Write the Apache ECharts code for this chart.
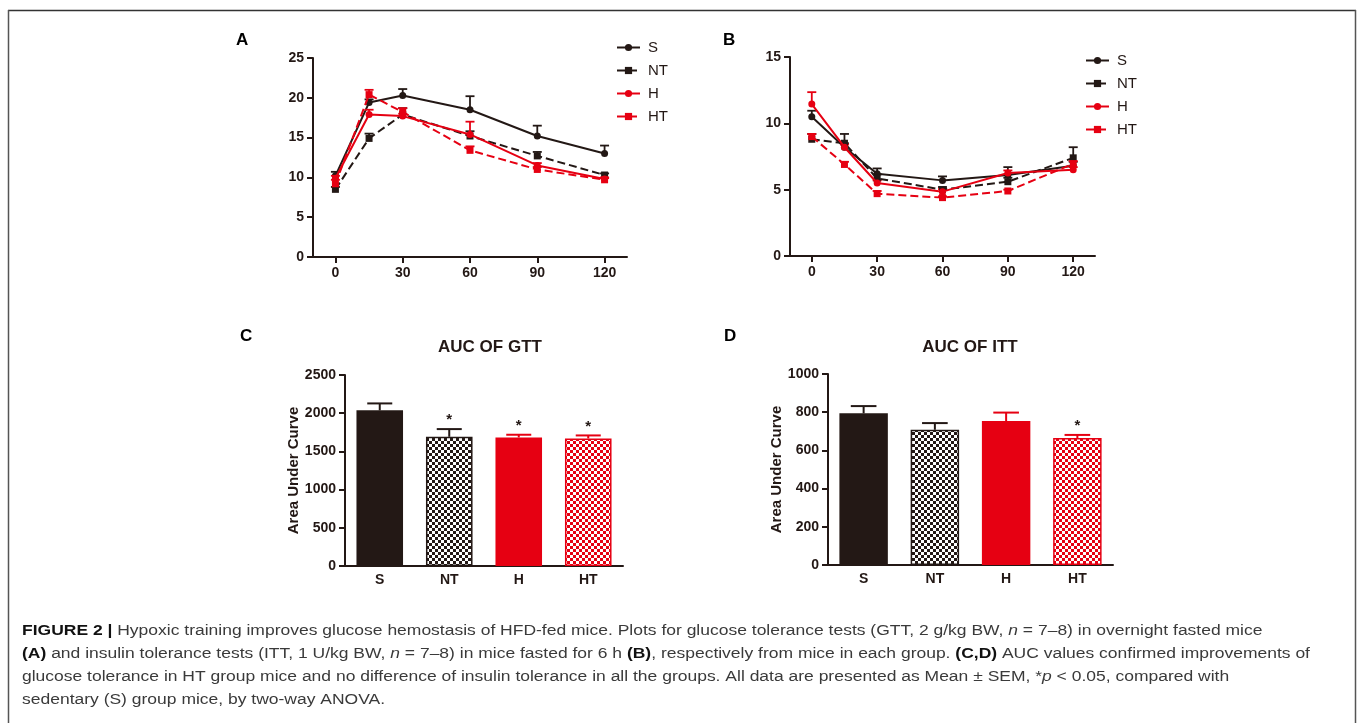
<!DOCTYPE html>
<html>
<head>
<meta charset="utf-8">
<script src="https://cdn.jsdelivr.net/npm/echarts@6.0.0/dist/echarts.min.js"></script>
<style>
html,body{margin:0;padding:0;background:#fff;}
#chart{width:1357px;height:723px;}
</style>
</head>
<body>
<div id="chart"></div>
<script>
// ---------- DATA ----------
const groupNames = ['S', 'NT', 'H', 'HT'];
const timePoints = [0, 15, 30, 60, 90, 120];
const timeTicks = [0, 30, 60, 90, 120];

// Panel A: GTT (mean, SEM)
const gttS = [10.2, 19.4, 20.3, 18.5, 15.2, 13.0];
const gttSSem = [0.5, 0.4, 0.8, 1.7, 1.3, 1.0];
const gttNT = [8.5, 14.9, 17.9, 15.2, 12.7, 10.3];
const gttNTSem = [0.3, 0.6, 0.8, 0.6, 0.5, 0.2];
const gttH = [9.9, 17.9, 17.7, 15.4, 11.5, 9.8];
const gttHSem = [0.3, 0.6, 0.3, 1.6, 0.3, 0.2];
const gttHT = [9.2, 20.4, 18.2, 13.4, 11.0, 9.7];
const gttHTSem = [0.5, 0.6, 0.5, 0.5, 0.3, 0.2];

// Panel B: ITT (mean, SEM)
const ittS = [10.5, 8.2, 6.2, 5.7, 6.1, 6.8];
const ittSSem = [0.45, 0.3, 0.4, 0.3, 0.6, 0.3];
const ittNT = [8.8, 8.5, 5.85, 5.0, 5.6, 7.4];
const ittNTSem = [0.4, 0.7, 0.3, 0.2, 0.3, 0.8];
const ittH = [11.45, 8.2, 5.5, 4.85, 6.25, 6.5];
const ittHSem = [0.9, 0.2, 0.2, 0.2, 0.2, 0.2];
const ittHT = [9.0, 6.9, 4.7, 4.4, 4.9, 6.95];
const ittHTSem = [0.2, 0.2, 0.2, 0.1, 0.1, 0.2];

// Panel C / D: AUC
const aucGtt = [2037, 1691, 1683, 1670];
const aucGttSem = [91, 101, 35, 39];
const sigGtt = ['', '*', '*', '*'];
const aucItt = [794, 708, 754, 665];
const aucIttSem = [38, 35, 44, 16];
const sigItt = ['', '', '', '*'];

// Axis ticks
const gttYTicks = {min: 0, max: 25, interval: 5};
const ittYTicks = {min: 0, max: 15, interval: 5};
const aucGttYTicks = {min: 0, max: 2500, interval: 500};
const aucIttYTicks = {min: 0, max: 1000, interval: 200};

// Texts
const panelLetters = ['A', 'B', 'C', 'D'];
const barTitles = ['AUC OF GTT', 'AUC OF ITT'];
const barYName = 'Area Under Curve';
const captionLines = [
  '{b|FIGURE 2 |} Hypoxic training improves glucose hemostasis of HFD-fed mice. Plots for glucose tolerance tests (GTT, 2 g/kg BW, {i|n} = 7–8) in overnight fasted mice',
  '{b|(A)} and insulin tolerance tests (ITT, 1 U/kg BW, {i|n} = 7–8) in mice fasted for 6 h {b|(B)}, respectively from mice in each group. {b|(C,D)} AUC values confirmed improvements of',
  'glucose tolerance in HT group mice and no difference of insulin tolerance in all the groups. All data are presented as Mean ± SEM, *{i|p} < 0.05, compared with',
  'sedentary (S) group mice, by two-way ANOVA.'
];

// ---------- STYLE ----------
const BLACK = '#231815';
const RED = '#e60012';
const FONT = '"Liberation Sans", Arial, Helvetica, sans-serif';

function checker(c) {
  const cv = document.createElement('canvas');
  cv.width = 6; cv.height = 6;
  const ctx = cv.getContext('2d');
  ctx.fillStyle = '#fff'; ctx.fillRect(0, 0, 6, 6);
  ctx.fillStyle = c; ctx.fillRect(0, 0, 3, 3); ctx.fillRect(3, 3, 3, 3);
  return cv;
}
const barStyles = [
  {color: BLACK},
  {color: {image: checker(BLACK), repeat: 'repeat'}, borderColor: BLACK, borderWidth: 1.5},
  {color: RED},
  {color: {image: checker(RED), repeat: 'repeat'}, borderColor: RED, borderWidth: 1.5}
];
const barErrColors = [BLACK, BLACK, RED, RED];

const lineDefs = [
  {name: 'S', color: BLACK, type: 'solid', symbol: 'circle'},
  {name: 'NT', color: BLACK, type: 'dashed', symbol: 'rect'},
  {name: 'H', color: RED, type: 'solid', symbol: 'circle'},
  {name: 'HT', color: RED, type: 'dashed', symbol: 'rect'}
];

const axisLineStyle = {show: true, onZero: false, lineStyle: {color: BLACK, width: 2}};
const axisTickStyle = {show: true, inside: false, length: 6, lineStyle: {color: BLACK, width: 2}};
const labelStyle = {color: BLACK, fontSize: 14, fontWeight: 'bold', fontFamily: FONT, margin: 9,
  formatter: function (v) { return String(v); }};

function lineErr(color) {
  return function (params, api) {
    const x = api.value(0), y = api.value(1), e = api.value(2);
    const p0 = api.coord([x, y]);
    const p1 = api.coord([x, y + e]);
    return {
      type: 'group',
      children: [
        {type: 'line', shape: {x1: p0[0], y1: p0[1], x2: p1[0], y2: p1[1]}, style: {stroke: color, lineWidth: 1.8}},
        {type: 'line', shape: {x1: p1[0] - 4.5, y1: p1[1], x2: p1[0] + 4.5, y2: p1[1]}, style: {stroke: color, lineWidth: 1.8}}
      ]
    };
  };
}

function barErr(sigs) {
  return function (params, api) {
    const idx = api.value(0), y = api.value(1), e = api.value(2);
    const p0 = api.coord([idx, y]);
    const p1 = api.coord([idx, y + e]);
    const band = api.size([1, 0])[0];
    const half = band * 0.18;
    const color = barErrColors[idx];
    const children = [
      {type: 'line', shape: {x1: p0[0], y1: p0[1], x2: p1[0], y2: p1[1]}, style: {stroke: color, lineWidth: 2}},
      {type: 'line', shape: {x1: p1[0] - half, y1: p1[1], x2: p1[0] + half, y2: p1[1]}, style: {stroke: color, lineWidth: 2}}
    ];
    if (sigs[idx]) {
      children.push({type: 'text', x: p1[0], y: p1[1] - 9, style: {text: sigs[idx], fill: BLACK, font: 'bold 15px ' + FONT, align: 'center', verticalAlign: 'middle', textAlign: 'center', textVerticalAlign: 'middle'}});
    }
    return {type: 'group', children: children};
  };
}

const gttData = [[gttS, gttSSem], [gttNT, gttNTSem], [gttH, gttHSem], [gttHT, gttHTSem]];
const ittData = [[ittS, ittSSem], [ittNT, ittNTSem], [ittH, ittHSem], [ittHT, ittHTSem]];

const series = [];
[[gttData, 0], [ittData, 1]].forEach(function (pair) {
  const data = pair[0], gi = pair[1];
  lineDefs.forEach(function (d, k) {
    series.push({
      type: 'custom', name: d.name + '-err', xAxisIndex: gi, yAxisIndex: gi,
      data: timePoints.map(function (t, i) { return [t, data[k][0][i], data[k][1][i]]; }),
      renderItem: lineErr(d.color), z: 2 + k, animation: false, silent: true
    });
    series.push({
      type: 'line', name: d.name, xAxisIndex: gi, yAxisIndex: gi,
      data: timePoints.map(function (t, i) { return [t, data[k][0][i]]; }),
      symbol: d.symbol, symbolSize: 7,
      lineStyle: {color: d.color, width: 2, type: d.type},
      itemStyle: {color: d.color},
      z: 3 + k, animation: false
    });
  });
});

series.push({
  type: 'bar', xAxisIndex: 2, yAxisIndex: 2, barWidth: '67%',
  data: aucGtt.map(function (v, i) { return {value: v, itemStyle: barStyles[i]}; }),
  animation: false
});
series.push({
  type: 'custom', xAxisIndex: 2, yAxisIndex: 2,
  data: aucGtt.map(function (v, i) { return [i, v, aucGttSem[i]]; }),
  renderItem: barErr(sigGtt), z: 5, animation: false
});
series.push({
  type: 'bar', xAxisIndex: 3, yAxisIndex: 3, barWidth: '68%',
  data: aucItt.map(function (v, i) { return {value: v, itemStyle: barStyles[i]}; }),
  animation: false
});
series.push({
  type: 'custom', xAxisIndex: 3, yAxisIndex: 3,
  data: aucItt.map(function (v, i) { return [i, v, aucIttSem[i]]; }),
  renderItem: barErr(sigItt), z: 5, animation: false
});

function timeAxis(gi) {
  return {
    type: 'value', gridIndex: gi, min: -10, max: 130,
    axisLine: axisLineStyle,
    axisTick: Object.assign({}, axisTickStyle, {customValues: timeTicks}),
    axisLabel: Object.assign({}, labelStyle, {customValues: timeTicks}),
    splitLine: {show: false}
  };
}
function catAxis(gi) {
  return {
    type: 'category', gridIndex: gi, data: groupNames,
    axisLine: axisLineStyle, axisTick: {show: false},
    axisLabel: {color: BLACK, fontSize: 14, fontWeight: 'bold', fontFamily: FONT, margin: 7},
    splitLine: {show: false}
  };
}
function valAxis(gi, t, name) {
  const ax = {
    type: 'value', gridIndex: gi, min: t.min, max: t.max, interval: t.interval,
    axisLine: axisLineStyle, axisTick: axisTickStyle, axisLabel: labelStyle,
    splitLine: {show: false}
  };
  if (name) {
    ax.name = name;
    ax.nameLocation = 'middle';
    ax.nameGap = 42;
    ax.nameRotate = 90;
    ax.nameTextStyle = {color: BLACK, fontSize: 15, fontWeight: 'bold', fontFamily: FONT};
  }
  return ax;
}

const legendBase = {
  data: groupNames, orient: 'vertical', itemWidth: 23, itemHeight: 9, itemGap: 8,
  textStyle: {color: BLACK, fontSize: 15, fontFamily: FONT, padding: [0, 0, 0, 3]},
  selectedMode: false
};

// graphic texts
const graphics = [];
// frame
graphics.push({type: 'line', shape: {x1: 8, y1: 10.5, x2: 1356, y2: 10.5}, style: {stroke: '#333', lineWidth: 1.5}, silent: true});
graphics.push({type: 'line', shape: {x1: 8.5, y1: 10, x2: 8.5, y2: 723}, style: {stroke: '#555', lineWidth: 1.5}, silent: true});
graphics.push({type: 'line', shape: {x1: 1355.5, y1: 10, x2: 1355.5, y2: 723}, style: {stroke: '#555', lineWidth: 1.5}, silent: true});

const letterPos = [[236, 40], [723, 40], [240, 336], [724, 336]];
panelLetters.forEach(function (l, i) {
  graphics.push({type: 'text', x: letterPos[i][0], y: letterPos[i][1], silent: true,
    style: {text: l, fill: '#000', font: 'bold 17px ' + FONT, align: 'left', verticalAlign: 'middle', textAlign: 'left', textVerticalAlign: 'middle'}});
});
const titlePos = [[490, 347], [970, 347]];
barTitles.forEach(function (t, i) {
  graphics.push({type: 'text', x: titlePos[i][0], y: titlePos[i][1], silent: true,
    style: {text: t, fill: BLACK, font: 'bold 17px ' + FONT, align: 'center', verticalAlign: 'middle', textAlign: 'center', textVerticalAlign: 'middle'}});
});
const capY = [631, 654, 677, 700];
captionLines.forEach(function (t, i) {
  graphics.push({type: 'text', x: 22, y: capY[i], scaleX: 1.128, silent: true,
    style: {text: t, fill: '#3a3a3a', font: '15.5px ' + FONT, align: 'left', verticalAlign: 'middle', textAlign: 'left', textVerticalAlign: 'middle',
      rich: {
        b: {fill: '#111', fontWeight: 'bold', fontSize: 15.5, fontFamily: FONT},
        i: {fill: '#3a3a3a', fontStyle: 'italic', fontSize: 15.5, fontFamily: FONT}
      }}});
});

const option = {
  backgroundColor: '#fff',
  animation: false,
  grid: [
    {left: 313, top: 58, width: 314, height: 199},
    {left: 790, top: 57, width: 305, height: 199},
    {left: 345, top: 375, width: 278, height: 191},
    {left: 828, top: 374, width: 285, height: 191}
  ],
  xAxis: [timeAxis(0), timeAxis(1), catAxis(2), catAxis(3)],
  yAxis: [
    valAxis(0, gttYTicks), valAxis(1, ittYTicks),
    valAxis(2, aucGttYTicks, barYName), valAxis(3, aucIttYTicks, barYName)
  ],
  legend: [
    Object.assign({}, legendBase, {left: 611, top: 35}),
    Object.assign({}, legendBase, {left: 1080, top: 48})
  ],
  series: series,
  graphic: graphics
};

const chart = echarts.init(document.getElementById('chart'), null, {renderer: 'canvas'});
chart.setOption(option);
</script>
</body>
</html>
